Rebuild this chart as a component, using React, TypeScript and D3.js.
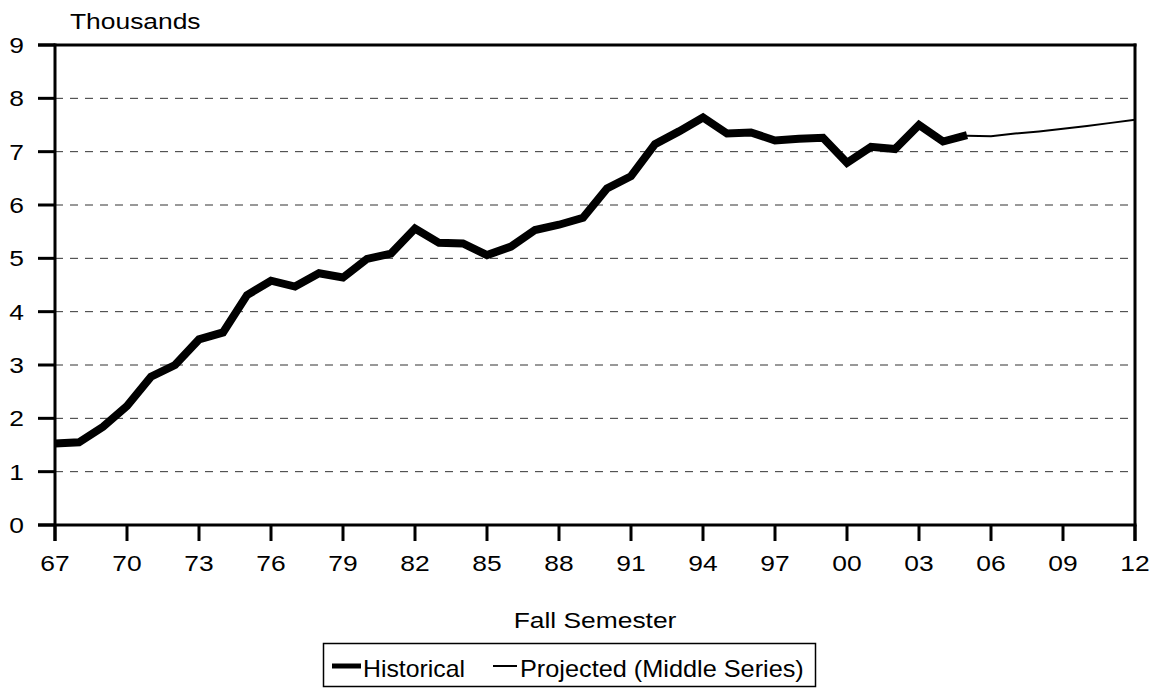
import React from "react";
import * as d3 from "d3";

const histYears = [1967,1968,1969,1970,1971,1972,1973,1974,1975,1976,1977,1978,1979,1980,1981,1982,1983,1984,1985,1986,1987,1988,1989,1990,1991,1992,1993,1994,1995,1996,1997,1998,1999,2000,2001,2002,2003,2004,2005];
const histValues = [1.53,1.55,1.84,2.23,2.78,3.0,3.48,3.61,4.31,4.58,4.47,4.72,4.64,4.99,5.09,5.56,5.29,5.28,5.06,5.22,5.53,5.63,5.76,6.31,6.54,7.14,7.38,7.64,7.34,7.36,7.21,7.24,7.26,6.79,7.09,7.05,7.50,7.19,7.31];
const projYears = [2005,2006,2007,2008,2009,2010,2011,2012];
const projValues = [7.30,7.29,7.34,7.38,7.43,7.48,7.54,7.60];
const xTickYears = [1967,1970,1973,1976,1979,1982,1985,1988,1991,1994,1997,2000,2003,2006,2009,2012];
const yTicks = [0,1,2,3,4,5,6,7,8,9];

const FONT = "'Liberation Sans', Arial, sans-serif";

function T({ x, y, children, anchor = "start", size = 22, sx = 1.2 }: any) {
  return (
    <text transform={`translate(${x},${y}) scale(${sx},1)`} textAnchor={anchor} fontSize={size} fill="#000">
      {children}
    </text>
  );
}

export default function App() {
  const left = 55, right = 1135, top = 45, bottom = 525;
  const x = d3.scaleLinear().domain([1967, 2012]).range([left, right]);
  const y = d3.scaleLinear().domain([0, 9]).range([bottom, top]);
  const line = d3.line<[number, number]>().x(d => x(d[0])).y(d => y(d[1])).curve(d3.curveLinear);
  const hist = histYears.map((yr, i) => [yr, histValues[i]] as [number, number]);
  const proj = projYears.map((yr, i) => [yr, projValues[i]] as [number, number]);
  const fmt = (yr: number) => String(yr % 100).padStart(2, "0");

  return (
    <svg width={1158} height={688} style={{ position: "absolute", left: 0, top: 0, background: "#fff" }} fontFamily={FONT}>
      <rect x={0} y={0} width={1158} height={688} fill="#fff" />
      {yTicks.filter(t => t > 0 && t < 9).map(t => (
        <line key={"g" + t} x1={left} x2={right} y1={y(t)} y2={y(t)} stroke="#333" strokeWidth={1} strokeDasharray="8,7" />
      ))}
      <line x1={38} x2={right + 1.5} y1={top} y2={top} stroke="#000" strokeWidth={3} />
      <line x1={38} x2={right + 1.5} y1={bottom} y2={bottom} stroke="#000" strokeWidth={3} />
      <line x1={left} x2={left} y1={top - 1.5} y2={541} stroke="#000" strokeWidth={3} />
      <line x1={right} x2={right} y1={top - 1.5} y2={541} stroke="#000" strokeWidth={3} />
      {yTicks.map(t => (
        <g key={"y" + t}>
          <line x1={38} x2={left} y1={y(t)} y2={y(t)} stroke="#000" strokeWidth={3} />
          <T x={24} y={y(t) + 8} anchor="end">{t}</T>
        </g>
      ))}
      {xTickYears.map(t => (
        <g key={"x" + t}>
          <line x1={x(t)} x2={x(t)} y1={bottom} y2={541} stroke="#000" strokeWidth={3} />
          <T x={x(t)} y={571} anchor="middle">{fmt(t)}</T>
        </g>
      ))}
      <path d={line(proj) || ""} fill="none" stroke="#000" strokeWidth={2} />
      <path d={line(hist) || ""} fill="none" stroke="#000" strokeWidth={8} strokeLinejoin="miter" />
      <T x={70} y={29}>Thousands</T>
      <T x={595} y={628} anchor="middle">Fall Semester</T>
      <rect x={323.5} y={643.5} width={492} height={43} fill="#fff" stroke="#000" strokeWidth={1.5} />
      <line x1={332} x2={361} y1={666} y2={666} stroke="#000" strokeWidth={5} />
      <T x={363} y={677} size={23} sx={1.08}>Historical</T>
      <line x1={493} x2={517} y1={666} y2={666} stroke="#000" strokeWidth={2} />
      <T x={520} y={677} size={23} sx={1.1}>Projected (Middle Series)</T>
    </svg>
  );
}
